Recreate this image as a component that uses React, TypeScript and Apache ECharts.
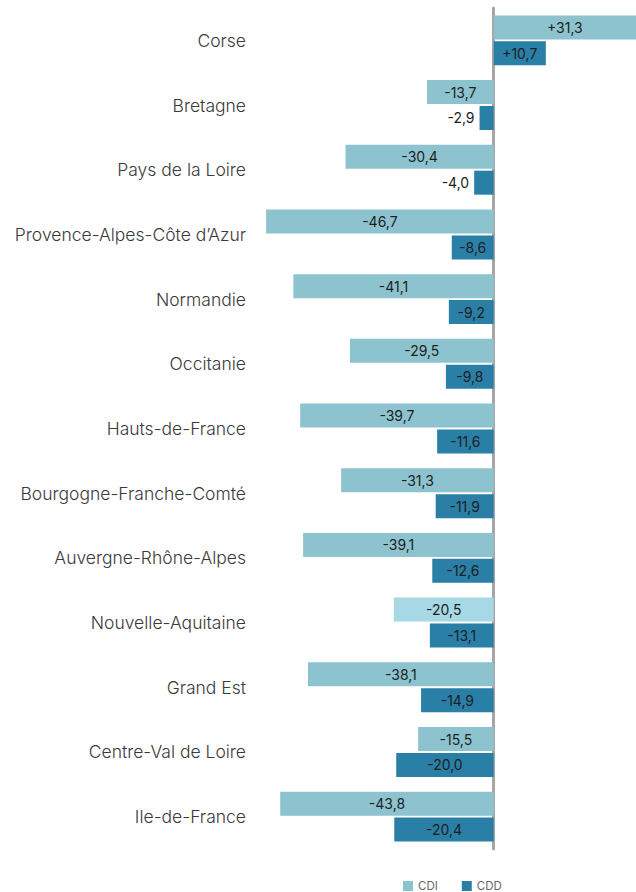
import React, { useEffect, useRef } from "react";
import * as echarts from "echarts";

const regions = [
  "Corse",
  "Bretagne",
  "Pays de la Loire",
  "Provence-Alpes-Côte d’Azur",
  "Normandie",
  "Occitanie",
  "Hauts-de-France",
  "Bourgogne-Franche-Comté",
  "Auvergne-Rhône-Alpes",
  "Nouvelle-Aquitaine",
  "Grand Est",
  "Centre-Val de Loire",
  "Ile-de-France",
];
const cdi = [31.3, -13.7, -30.4, -46.7, -41.1, -29.5, -39.7, -31.3, -39.1, -20.5, -38.1, -15.5, -43.8];
const cdd = [10.7, -2.9, -4.0, -8.6, -9.2, -9.8, -11.6, -11.9, -12.6, -13.1, -14.9, -20.0, -20.4];
const highlighted = "Nouvelle-Aquitaine";

const CDI_COLOR = "#8cc3cf";
const CDI_HIGHLIGHT = "#a6d8e6";
const CDD_COLOR = "#2a7fa6";
const FONT = "Inter, 'Noto Sans', sans-serif";

const fmt = (v: number) => (v > 0 ? "+" : "") + v.toFixed(1).replace(".", ",");

export default function App() {
  const ref = useRef<HTMLDivElement>(null);
  useEffect(() => {
    if (!ref.current) return;
    const chart = echarts.init(ref.current, undefined, { renderer: "svg" });
    const mk = (vals: number[], color: string, hl?: string) =>
      vals.map((v, i) => ({
        value: v,
        itemStyle: { color: hl && regions[i] === highlighted ? hl : color },
        label: { position: Math.abs(v) < 6 ? (v < 0 ? "left" : "right") : "inside" },
      }));
    const labelCfg = {
      show: true,
      color: "#1e1e1e",
      fontSize: 14,
      fontWeight: 400,
      fontFamily: FONT,
      formatter: (p: any) => fmt(p.value),
    };
    chart.setOption({
      animation: false,
      textStyle: { fontFamily: FONT },
      grid: { left: 250, right: 0, top: 8, bottom: 43, containLabel: false },
      legend: {
        left: 403,
        top: 880,
        padding: 0,
        icon: "rect",
        itemWidth: 10,
        itemHeight: 10,
        itemGap: 24,
        textStyle: { color: "#666", fontSize: 11.5, fontFamily: FONT },
        data: ["CDI", "CDD"],
      },
      xAxis: {
        type: "value",
        min: -50,
        max: 29.2,
        show: false,
      },
      yAxis: {
        type: "category",
        data: regions,
        inverse: true,
        axisLine: { onZero: true, lineStyle: { color: "#a6a6a6", width: 3 } },
        axisTick: { show: false },
        axisLabel: { color: "#3a3a3a", fontSize: 17.5, fontWeight: 300, margin: 4, fontFamily: FONT },
      },
      series: [
        {
          name: "CDI",
          type: "bar",
          barWidth: 24,
          barGap: "8%",
          itemStyle: { color: CDI_COLOR },
          label: labelCfg,
          data: mk(cdi, CDI_COLOR, CDI_HIGHLIGHT),
        },
        {
          name: "CDD",
          type: "bar",
          barWidth: 24,
          itemStyle: { color: CDD_COLOR },
          label: labelCfg,
          data: mk(cdd, CDD_COLOR),
        },
      ],
    });
    return () => chart.dispose();
  }, []);
  return (
    <div
      ref={ref}
      style={{ position: "fixed", left: 0, top: 0, width: 636, height: 892, background: "#fff" }}
    />
  );
}
